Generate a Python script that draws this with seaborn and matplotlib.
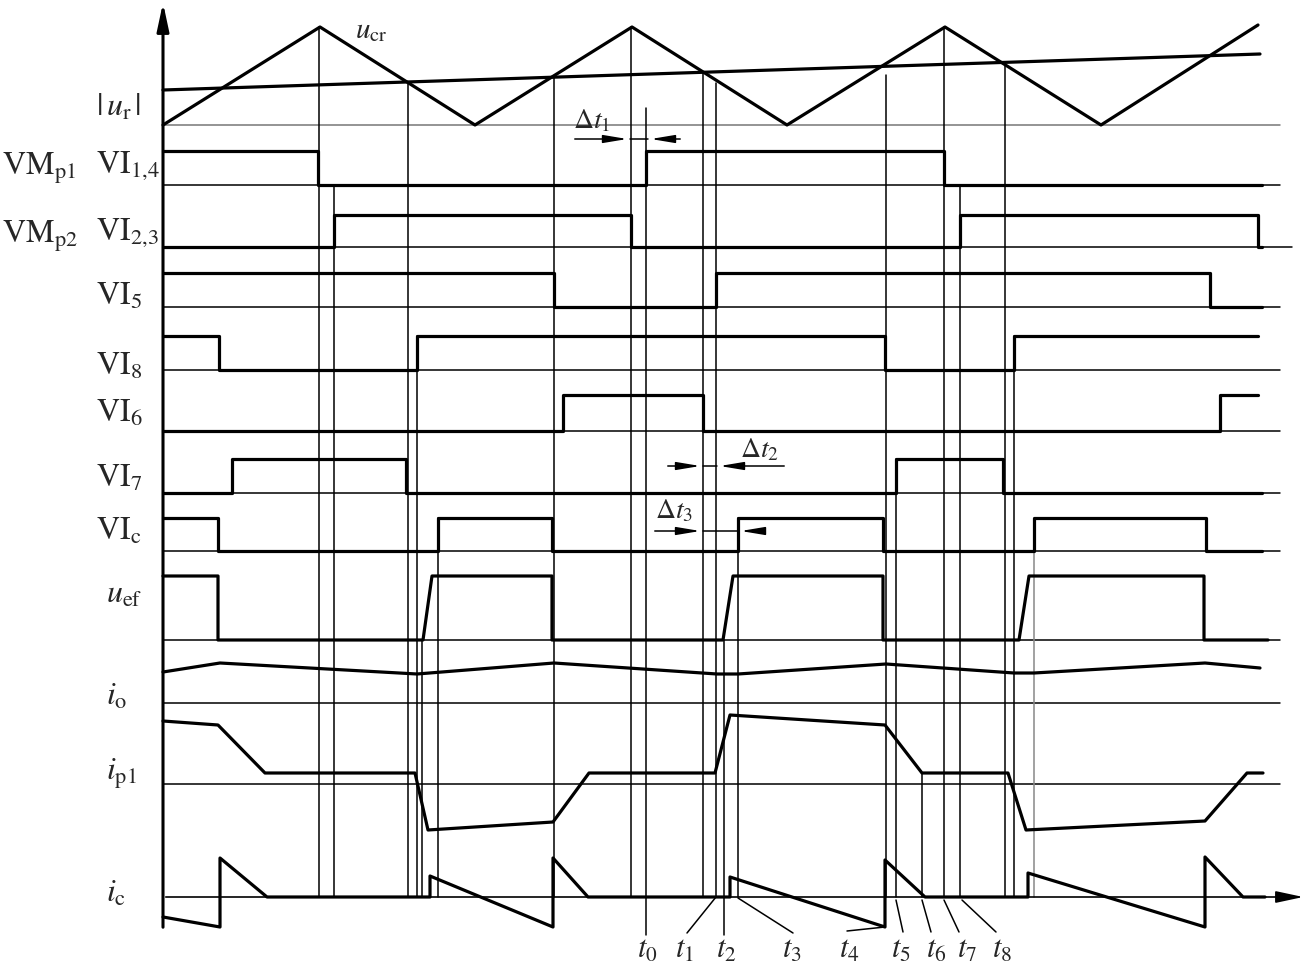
import numpy as np
import pandas as pd
import seaborn as sns
import matplotlib.pyplot as plt

t_tri = [163, 320, 475, 632, 787, 945, 1101, 1258]
u_cr = [0, 98, 0, 98, 0, 98, 0, 100]
t_ur = [163, 1260]
u_r = [35, 71]

# switching signals: edge times and the level held in between
vi14_t, vi14_s = [163, 318, 646, 944, 1262], [1, 0, 1, 0]
vi23_t, vi23_s = [163, 334, 631, 960, 1258, 1262], [0, 1, 0, 1, 0]
vi5_t, vi5_s = [163, 554, 716, 1210, 1262], [1, 0, 1, 0]
vi8_t, vi8_s = [163, 219, 417, 885, 1014, 1258], [1, 0, 1, 0, 1]
vi6_t, vi6_s = [163, 563, 703, 1220, 1258], [0, 1, 0, 1]
vi7_t, vi7_s = [163, 232, 406, 896, 1003, 1262], [0, 1, 0, 1, 0]
vic_t, vic_s = [163, 218, 438, 552, 738, 883, 1034, 1206, 1262], [1, 0, 1, 0, 1, 0, 1, 0]

uef_t = [163, 218, 218, 423, 432, 552, 552, 723, 733, 883, 883, 1019, 1029, 1204, 1204, 1268]
uef_v = [1, 1, 0, 0, 1, 1, 0, 0, 1, 1, 0, 0, 1, 1, 0, 0]

io_t = [163, 220, 417, 554, 717, 738, 886, 1014, 1034, 1205, 1260]
io_v = [31, 40, 29, 40, 29, 29, 39, 30, 30, 40, 35]

ip1_t = [163, 218, 265, 415, 428, 553, 589, 715, 730, 885, 922, 1008, 1026, 1205, 1247, 1263]
ip1_v = [63, 59, 11, 11, -46, -38, 11, 11, 69, 59, 11, 11, -46, -37, 11, 11]

ic_t = [163, 220, 220, 267, 430, 430, 553, 553, 588, 730, 730, 885, 885, 925, 1028, 1028, 1205, 1205, 1243, 1265]
ic_v = [-20, -30, 39, 0, 0, 21, -30, 39, 0, 0, 20, -30, 37, 0, 0, 24, -30, 40, 0, 0]

# guide lines: time, top, bottom
guide_t = [319, 334, 408, 417, 422, 438, 554, 631, 646, 703, 716, 724, 738, 886, 896, 922, 944, 960, 1005, 1014, 1034]
guide_top = [27, 185, 82, 336, 640, 518, 76, 27, 108, 72, 83, 640, 518, 75, 459, 773, 27, 185, 63, 336, 518]
guide_bot = [897, 897, 897, 897, 897, 897, 897, 897, 935, 897, 897, 935, 897, 897, 897, 897, 897, 897, 897, 897, 897]

t_names = ['t_0', 't_1', 't_2', 't_3', 't_4', 't_5', 't_6', 't_7', 't_8']
t_label_x = [647, 684, 726, 792, 849, 901, 936, 967, 1002]
leader_from = [(646, 935), (687, 933), (724, 935), (793, 933), (847, 931), (903, 932), (931, 932), (959, 932), (996, 932)]
leader_to = [(646, 935), (716, 897), (724, 935), (738, 898), (885, 927), (896, 900), (922, 900), (944, 900), (962, 900)]

base = {'ur': 125, 'vi14': 185, 'vi23': 247, 'vi5': 307, 'vi8': 370, 'vi6': 431,
        'vi7': 493, 'vic': 551, 'uef': 640, 'io': 703, 'ip1': 784, 'ic': 897}


def step_xy(t, s):
    xs, ys = [], []
    for i, lvl in enumerate(s):
        xs += [t[i], t[i + 1]]
        ys += [lvl, lvl]
    return xs, ys


def wave(ax, x, v, row, scale=1.0, lw=2.3):
    df = pd.DataFrame({'t': x, 'y': [base[row] - scale * k for k in v]})
    sns.lineplot(data=df, x='t', y='y', ax=ax, color='black', lw=lw,
                 sort=False, estimator=None)


sns.set_theme(style='white')
plt.rcParams['font.family'] = ['STIXGeneral', 'Liberation Serif', 'DejaVu Serif']
plt.rcParams['mathtext.fontset'] = 'stix'

fig = plt.figure(figsize=(13.14, 9.66), dpi=100)
ax = fig.add_axes([0, 0, 1, 1])

# thin baselines
for row, y in base.items():
    if row == 'ic':
        continue
    end = 1292 if row == 'vi23' else 1280
    ax.plot([163, end], [y, y], color='#777777' if row == 'ur' else 'black', lw=1.1)

# guide lines
for x, y0, y1 in zip(guide_t, guide_top, guide_bot):
    ax.plot([x, x], [y0, y1], color='#888888' if x == 1034 else 'black', lw=1.1)

# carrier and reference
wave(ax, t_tri, u_cr, 'ur')
wave(ax, t_ur, u_r, 'ur')

for row, t, s, h in [('vi14', vi14_t, vi14_s, 34), ('vi23', vi23_t, vi23_s, 32),
                     ('vi5', vi5_t, vi5_s, 34), ('vi8', vi8_t, vi8_s, 34),
                     ('vi6', vi6_t, vi6_s, 36), ('vi7', vi7_t, vi7_s, 34),
                     ('vic', vic_t, vic_s, 33)]:
    xs, ys = step_xy(t, s)
    wave(ax, xs, ys, row, scale=h)

wave(ax, uef_t, uef_v, 'uef', scale=64)
wave(ax, io_t, io_v, 'io')
wave(ax, ip1_t, ip1_v, 'ip1')
wave(ax, ic_t, ic_v, 'ic')

# axes with arrows
ax.annotate('', xy=(163, 0), xytext=(163, 930),
            arrowprops=dict(arrowstyle='-|>,head_length=1.4,head_width=0.3', color='black', lw=2.2))
ax.annotate('', xy=(1306, 897), xytext=(163, 897),
            arrowprops=dict(arrowstyle='-|>,head_length=1.4,head_width=0.3', color='black', lw=1.2))

# delta t markers
dt_arrows = [(572, 630, 139, 683, 648), (665, 703, 466, 787, 717), (652, 703, 531, 767, 738)]
for xa, xb, y, xc, xd in dt_arrows:
    for x0, x1 in [(xa, xb), (xc, xd)]:
        ax.annotate('', xy=(x1, y), xytext=(x0, y),
                    arrowprops=dict(arrowstyle='-|>,head_length=1.2,head_width=0.2',
                                    color='black', lw=1.1))
    ax.plot([xb, xd], [y, y], color='black', lw=1.1)

fs = 23
ax.text(573, 128, r'$\Delta t_1$', fontsize=20)
ax.text(740, 457, r'$\Delta t_2$', fontsize=20)
ax.text(655, 518, r'$\Delta t_3$', fontsize=20)

ax.text(355, 38, r'$u_{\mathrm{cr}}$', fontsize=21)
ax.text(96, 116, r'$|\,u_{\mathrm{r}}\,|$', fontsize=fs)
ax.text(2, 175, r'$\mathrm{VM_{p1}}$', fontsize=fs)
ax.text(2, 243, r'$\mathrm{VM_{p2}}$', fontsize=fs)

row_labels = [(96, 173, r'$\mathrm{VI}_{1{,}4}$'), (96, 240, r'$\mathrm{VI}_{2{,}3}$'),
              (96, 305, r'$\mathrm{VI}_5$'), (96, 375, r'$\mathrm{VI}_8$'),
              (96, 422, r'$\mathrm{VI}_6$'), (96, 487, r'$\mathrm{VI}_7$'),
              (96, 540, r'$\mathrm{VI}_\mathrm{c}$'), (106, 603, r'$u_{\mathrm{ef}}$'),
              (106, 705, r'$i_{\mathrm{o}}$'), (106, 780, r'$i_{\mathrm{p1}}$'),
              (106, 902, r'$i_{\mathrm{c}}$')]
for x, y, s in row_labels:
    ax.text(x, y, s, fontsize=fs)

for (x0, y0), (x1, y1) in zip(leader_from, leader_to):
    ax.plot([x0, x1], [y0, y1], color='black', lw=1.1)
for x, name in zip(t_label_x, t_names):
    ax.text(x, 958, '$' + name + '$', fontsize=22, ha='center')

ax.set_xlim(0, 1314)
ax.set_ylim(966, 0)
ax.axis('off')
fig.savefig('out.png', dpi=100, facecolor='white')
